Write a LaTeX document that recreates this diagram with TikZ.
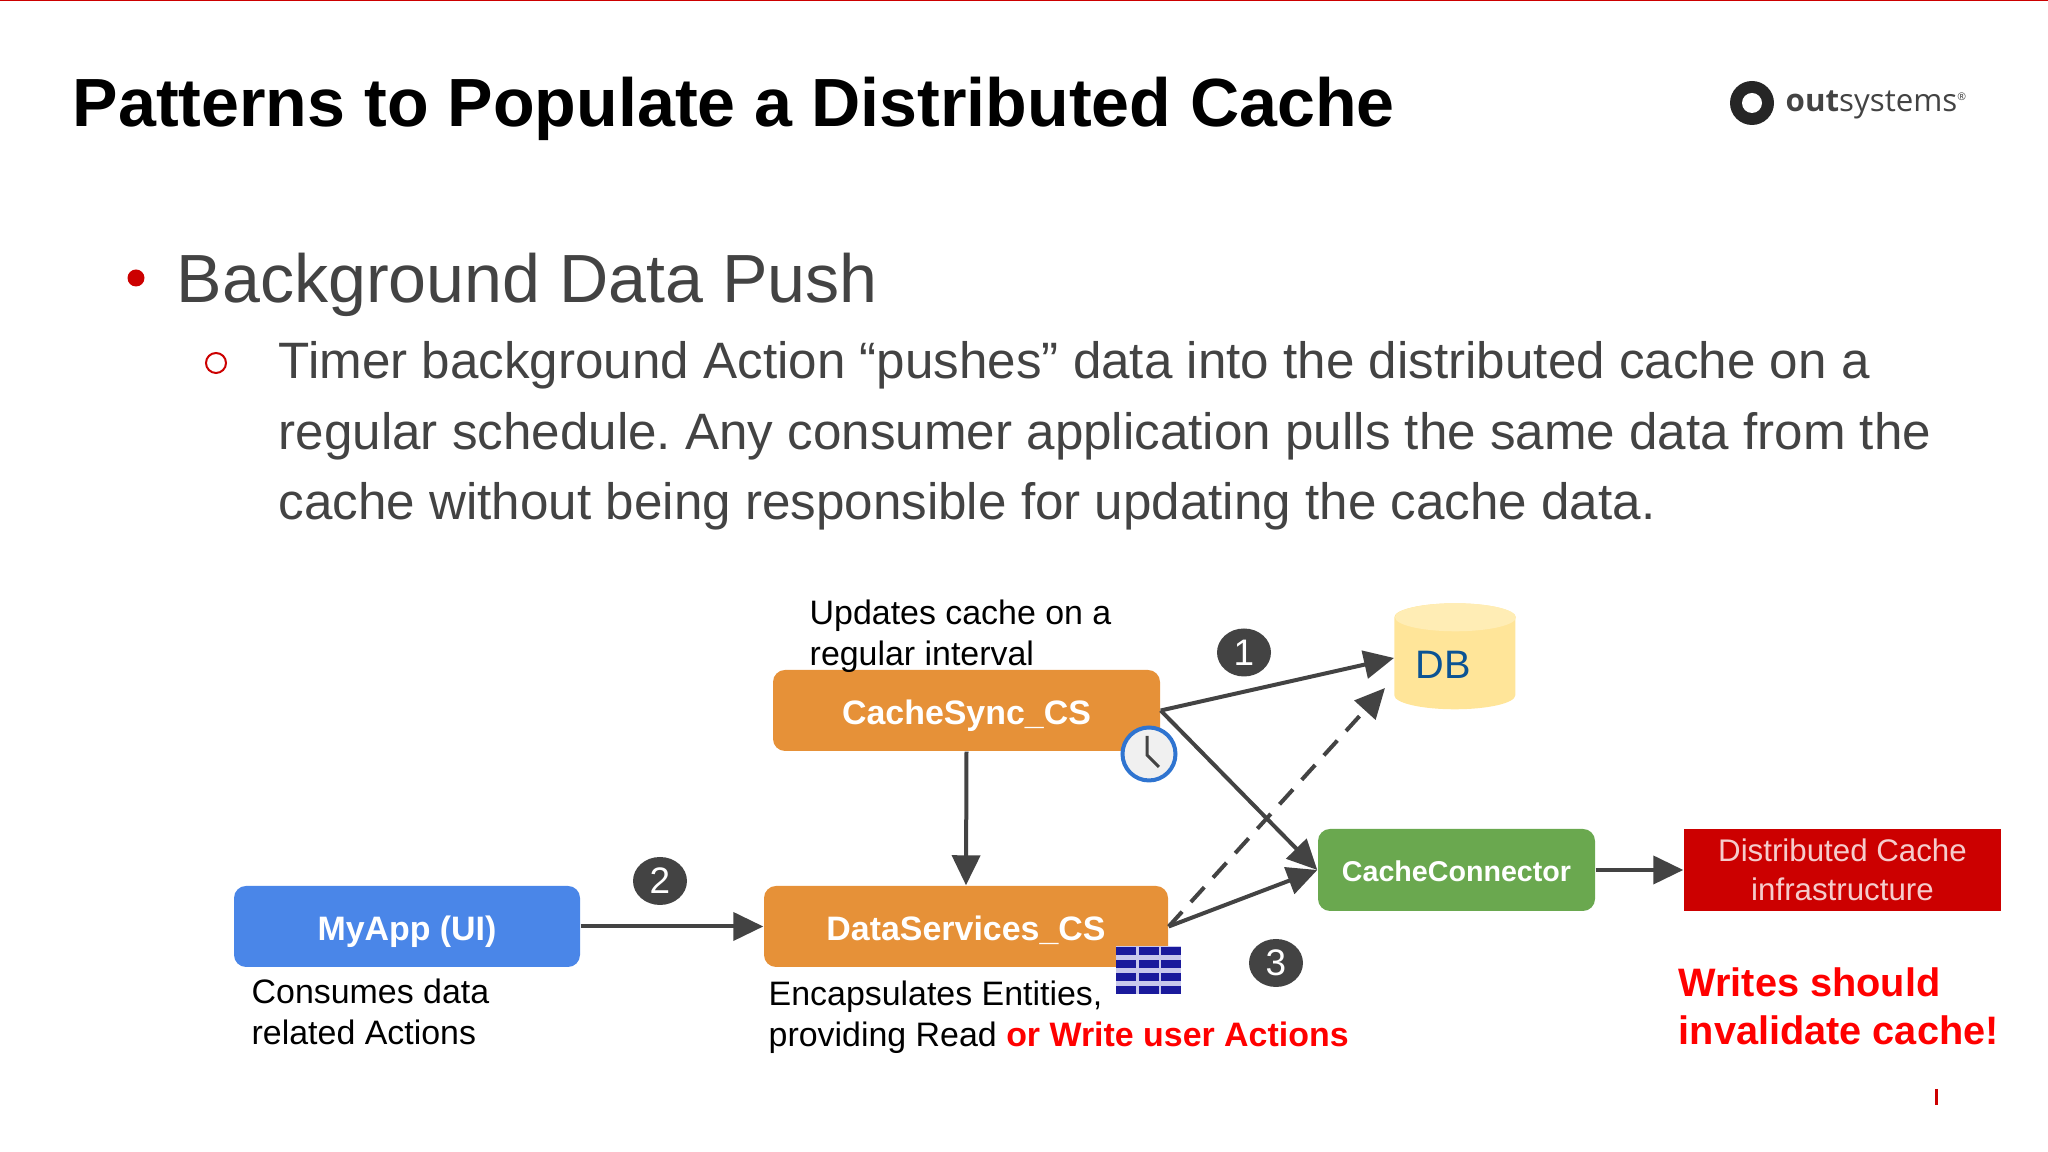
\documentclass[tikz,border=0pt]{standalone}
\usepackage{fontspec}
\setmainfont{Liberation Sans}
\newfontfamily\logofont{Open Sans}
\usetikzlibrary{arrows.meta,shapes.geometric}
\definecolor{darkgrey}{HTML}{434343}
\definecolor{boxorange}{HTML}{E69138}
\definecolor{boxblue}{HTML}{4A86E8}
\definecolor{boxgreen}{HTML}{6AA84F}
\definecolor{boxred}{HTML}{CC0000}
\definecolor{dbyellow}{HTML}{FFE599}
\definecolor{dbtopcolor}{HTML}{FFEDB5}
\definecolor{dbblue}{HTML}{0B5394}
\definecolor{gridblue}{HTML}{1A1A9C}
\definecolor{gridlilac}{HTML}{C8C8EC}
\definecolor{clockblue}{HTML}{2F74D0}
\frenchspacing
\tikzset{
	>={Triangle[length=0.3cm,width=0.28cm]},
	box/.style={rounded corners=0.12cm, minimum height=0.81cm, text=white, inner sep=0pt, text height=0.29cm, text depth=0pt, font=\fontsize{9.65}{12}\selectfont\bfseries},
	badge/.style={ellipse, fill=darkgrey, text=white, minimum width=0.54cm, minimum height=0.48cm, inner sep=0pt, font=\fontsize{10.5}{12}\selectfont},
	link/.style={->, darkgrey, line width=0.04cm},
	note/.style={anchor=north west, align=left, inner sep=0pt, font=\fontsize{9.65}{11.7}\selectfont},
}
\begin{document}
\begin{tikzpicture}
	\useasboundingbox (0,0) rectangle (20.48,11.52);
	\fill[boxred] (0,11.505) rectangle (20.48,11.52);
	% heading
	\node[anchor=base west, inner sep=0pt, font=\fontsize{19.4}{24}\selectfont\bfseries] (title) at (0.72,10.25) {Patterns to Populate a Distributed Cache};
	\node[circle, fill=black!85, minimum size=0.44cm, inner sep=0pt] (logoring) at (17.52,10.49) {};
	\node[circle, fill=white, minimum size=0.2cm, inner sep=0pt] (logohole) at (logoring) {};
	\node[anchor=base west, inner sep=0pt, text=darkgrey, font=\fontsize{8.9}{11}\logofont] (logotext) at (17.85,10.4) {\textbf{out}systems\raisebox{0.7ex}{\fontsize{3}{4}\selectfont®}};
	% bullets
	\node[circle, fill=boxred, minimum size=0.17cm, inner sep=0pt] (dot) at (1.36,8.74) {};
	\node[anchor=base west, inner sep=0pt, text=darkgrey, font=\fontsize{19.4}{23}\selectfont] (push) at (1.76,8.49) {Background Data Push};
	\node[circle, draw=boxred, line width=0.02cm, minimum size=0.2cm, inner sep=0pt] (ring) at (2.16,7.89) {};
	\node[anchor=north west, align=left, inner sep=0pt, text=darkgrey, font=\fontsize{14.56}{20.05}\selectfont] (timer) at (2.78,8.11) {Timer background Action “pushes” data into the distributed cache on a\\regular schedule. Any consumer application pulls the same data from the\\cache without being responsible for updating the cache data.};
	% boxes
	\node[box, fill=boxorange, minimum width=3.87cm] (cachesync) at (9.665,4.415) {CacheSync\_CS};
	\node[box, fill=boxorange, minimum width=4.04cm] (dataservices) at (9.66,2.255) {DataServices\_CS};
	\node[box, fill=boxblue, minimum width=3.46cm] (myapp) at (4.07,2.255) {MyApp (UI)};
	\node[box, fill=boxgreen, minimum width=2.77cm, minimum height=0.82cm, text height=0.24cm, font=\fontsize{8.15}{10}\selectfont\bfseries] (connector) at (14.565,2.82) {CacheConnector};
	\node[rectangle, fill=boxred, minimum width=3.17cm, minimum height=0.82cm, inner sep=0pt, align=center, font=\fontsize{8.9}{11}\selectfont, text=white!80!boxred] (distributed) at (18.425,2.82) {Distributed Cache\\infrastructure};
	% the tin
	\node[minimum width=1.21cm, minimum height=1.06cm, inner sep=0pt] (db) at (14.555,4.95) {};
	\fill[dbyellow] (db.north west) ++(0,-0.14) -- ++(0,-0.78) arc (180:360:0.605cm and 0.14cm) -- ++(0,0.78) arc (0:180:0.605cm and 0.14cm);
	\fill[dbtopcolor] (db.north) ++(0,-0.14) ellipse (0.605cm and 0.14cm);
	\node[text=dbblue, inner sep=0pt, font=\fontsize{11.3}{14}\selectfont] (dblabel) at (14.43,4.87) {DB};
	\coordinate (dbtop) at (13.94,4.94);
	\coordinate (dbside) at (13.85,4.64);
	% links
	\draw[link] (cachesync.east) -- (dbtop);
	\draw[link] (cachesync.east) -- (connector.west);
	\draw[link] (cachesync.south) -- (dataservices.north);
	\draw[link] (myapp.east) -- (dataservices.west);
	\draw[link] (dataservices.east) -- (connector.west);
	\draw[link, dashed, dash pattern=on 0.2cm off 0.13cm] (dataservices.east) -- (dbside);
	\draw[link] (connector.east) -- (distributed.west);
	% badges
	\node[badge] (one) at (12.44,4.995) {1};
	\node[badge] (two) at (6.6,2.71) {2};
	\node[badge] (three) at (12.76,1.89) {3};
	% clock on the timer box
	\node[circle, draw=clockblue, fill=black!6, line width=0.04cm, minimum size=0.53cm, inner sep=0pt] (clock) at (11.49,3.98) {};
	\draw[darkgrey, line width=0.03cm] (11.47,4.16) -- (11.47,3.97) -- (11.59,3.85);
	% entity grid
	\fill[gridlilac] (11.16,2.06) rectangle (11.81,1.58);
	\foreach \x in {11.16,11.39,11.61}
		\foreach \y in {2.05,1.92,1.79,1.66}
			\fill[gridblue] (\x,\y) rectangle +(0.195,-0.085);
	% notes
	\node[note] (updates) at (8.09,5.53) {Updates cache on a\\regular interval};
	\node[note] (consumes) at (2.51,1.74) {Consumes data\\related Actions};
	\node[note] (encapsulates) at (7.68,1.72) {Encapsulates Entities,\\providing Read \textcolor{red}{\textbf{or Write user Actions}}};
	\node[note, text=red, font=\fontsize{11.3}{13.8}\selectfont\bfseries] (writes) at (16.78,1.85) {Writes should\\invalidate cache!};
	\draw[boxred, line width=0.03cm] (19.36,0.63) -- (19.36,0.47);
\end{tikzpicture}
\end{document}
